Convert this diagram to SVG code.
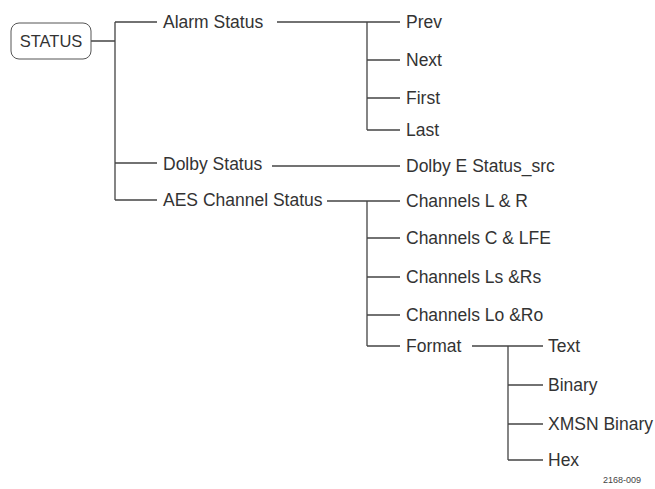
<svg xmlns="http://www.w3.org/2000/svg" width="655" height="489" viewBox="0 0 655 489">
<style>
text{font-family:"Liberation Sans",Arial,sans-serif;font-size:17.5px;fill:#333}
.c path{fill:none;stroke:#444;stroke-width:1.3}
.box{fill:#fff;stroke:#555;stroke-width:1}
.fn{font-size:9px;fill:#444}
</style>
<rect width="655" height="489" fill="#fff"/>
<g class="c" id="connectors">
<path d="M91 41H115M115 22V200M115 22H157M115 163H157M115 200H157"/>
<path d="M277 22H400M367 22V130M367 60H400M367 98H400M367 130H400"/>
<path d="M272 166H400"/>
<path d="M327 201H400M367 201V346M367 238H400M367 277H400M367 315H400M367 346H400"/>
<path d="M472 346H543M508 346V460M508 385H543M508 424H543M508 460H543"/>
</g>
<g id="status"><rect class="box" x="11" y="23" width="80" height="36" rx="8"/><text x="51" y="47" text-anchor="middle" style="font-size:16.5px">STATUS</text></g>
<g id="alarm"><text x="163" y="28">Alarm Status</text></g>
<g id="dolby"><text x="163" y="170">Dolby Status</text></g>
<g id="aes"><text x="163" y="206">AES Channel Status</text></g>
<g id="prev"><text x="406" y="28">Prev</text></g>
<g id="next"><text x="406" y="66">Next</text></g>
<g id="first"><text x="406" y="104">First</text></g>
<g id="last"><text x="406" y="136">Last</text></g>
<g id="dolbye"><text x="406" y="172">Dolby E Status_src</text></g>
<g id="ch-lr"><text x="406" y="207">Channels L &amp; R</text></g>
<g id="ch-clfe"><text x="406" y="244">Channels C &amp; LFE</text></g>
<g id="ch-lsrs"><text x="406" y="283">Channels Ls &amp;Rs</text></g>
<g id="ch-loro"><text x="406" y="321">Channels Lo &amp;Ro</text></g>
<g id="format"><text x="406" y="352">Format</text></g>
<g id="text"><text x="548" y="352">Text</text></g>
<g id="binary"><text x="548" y="391">Binary</text></g>
<g id="xmsn"><text x="548" y="430">XMSN Binary</text></g>
<g id="hex"><text x="548" y="466">Hex</text></g>
<text class="fn" x="603" y="483">2168-009</text>
</svg>
